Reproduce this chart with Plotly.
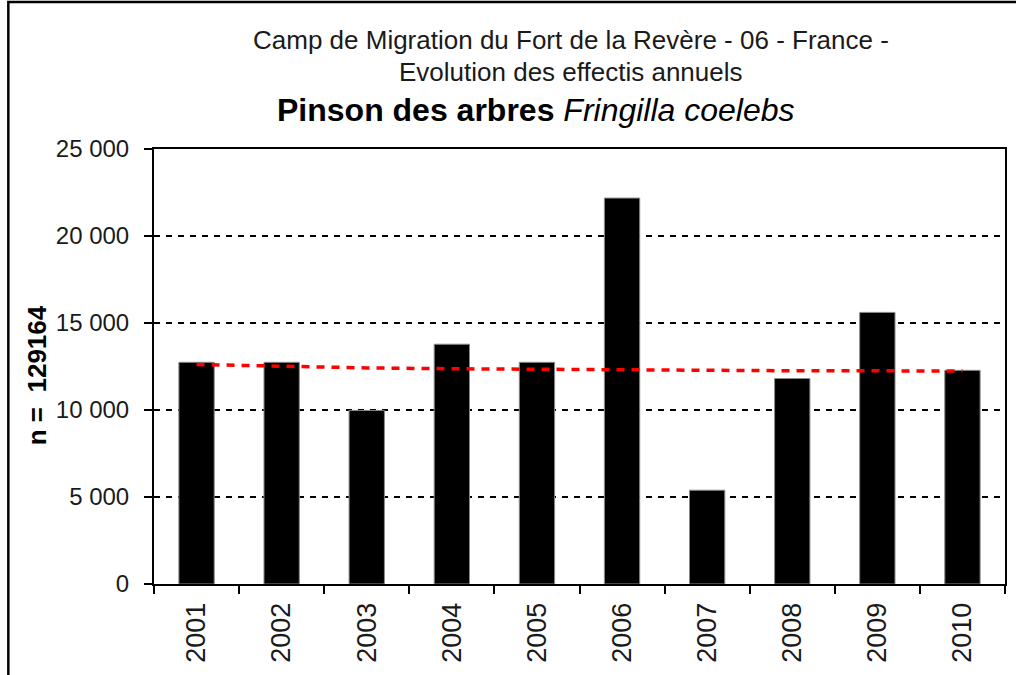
import plotly.graph_objects as go

# Annual counts (bars) and the red reference line
years = ["2001", "2002", "2003", "2004", "2005", "2006", "2007", "2008", "2009", "2010"]
counts = [12740, 12740, 9975, 13780, 12740, 22180, 5390, 11810, 15610, 12280]
trend = [12615, 12500, 12420, 12370, 12340, 12280, 12265, 12255, 12250, 12245]

total_label = "n = \u00a0129164"
title_line1 = "Camp de Migration du Fort de la Revère - 06 - France -"
title_line2 = "Evolution des effectis annuels"
title_common = "Pinson des arbres"
title_latin = "Fringilla coelebs"

FONT = "Arial, 'Liberation Sans', sans-serif"

# plot-area geometry in pixels (used to place annotations/shapes in paper units)
W, H = 1016, 675
L, R, T, B = 154, 9, 149, 91
PW, PH = W - L - R, H - T - B


def px_x(x):
    return (x - L) / PW


def px_y(y):
    return (H - B - y) / PH


fig = go.Figure()

fig.add_trace(go.Bar(
    x=years, y=counts,
    marker=dict(color="#000000", line=dict(color="#8a8a8a", width=1)),
    showlegend=False, hoverinfo="x+y",
))

fig.add_trace(go.Scatter(
    x=years, y=trend, mode="lines",
    line=dict(color="#ff0000", width=3.5, dash="8px,7px"),
    showlegend=False,
))

fig.update_layout(
    width=W, height=H,
    margin=dict(l=L, r=R, t=T, b=B, pad=0),
    paper_bgcolor="white", plot_bgcolor="white",
    separators=", ",
    bargap=0.585,
    font=dict(family=FONT, color="#000000", size=24),
    xaxis=dict(
        type="category",
        showline=True, linecolor="#000000", linewidth=2, mirror=True,
        ticks="outside", ticklen=8, tickwidth=2, tickcolor="#000000",
        tickson="boundaries",
        tickangle=-90,
        ticklabelstandoff=6,
        tickfont=dict(family=FONT, size=27, color="#1a1a1a"),
        showgrid=False, zeroline=False,
    ),
    yaxis=dict(
        range=[0, 25000], dtick=5000, tickformat=",d",
        showline=True, linecolor="#000000", linewidth=2, mirror=True,
        ticks="outside", ticklen=8, tickwidth=2, tickcolor="#000000",
        ticklabelstandoff=10,
        tickfont=dict(family=FONT, size=24, color="#1a1a1a"),
        showgrid=True, gridcolor="#000000", gridwidth=2, griddash="6px,6px",
        zeroline=False,
    ),
    annotations=[
        dict(text=title_line1, xref="paper", yref="paper",
             x=px_x(572), y=px_y(40), xanchor="center", yanchor="middle",
             showarrow=False, font=dict(family=FONT, size=26, color="#1a1a1a")),
        dict(text=title_line2, xref="paper", yref="paper",
             x=px_x(572), y=px_y(72), xanchor="center", yanchor="middle",
             showarrow=False, font=dict(family=FONT, size=26, color="#1a1a1a")),
        dict(text=f"<b>{title_common}</b> <i>{title_latin}</i>",
             xref="paper", yref="paper",
             x=px_x(537), y=px_y(110), xanchor="center", yanchor="middle",
             showarrow=False, font=dict(family=FONT, size=32, color="#000000")),
        dict(text=f"<b>{total_label}</b>", xref="paper", yref="paper",
             x=px_x(37), y=px_y(375), xanchor="center", yanchor="middle",
             textangle=-90, showarrow=False,
             font=dict(family=FONT, size=26, color="#000000")),
    ],
    shapes=[
        # outer chart frame (left and top edges visible)
        dict(type="rect", xref="paper", yref="paper",
             x0=px_x(8), x1=px_x(1040), y0=px_y(700), y1=px_y(2),
             line=dict(color="#000000", width=2.5), layer="above"),
    ],
)

fig.write_html("out.html")
